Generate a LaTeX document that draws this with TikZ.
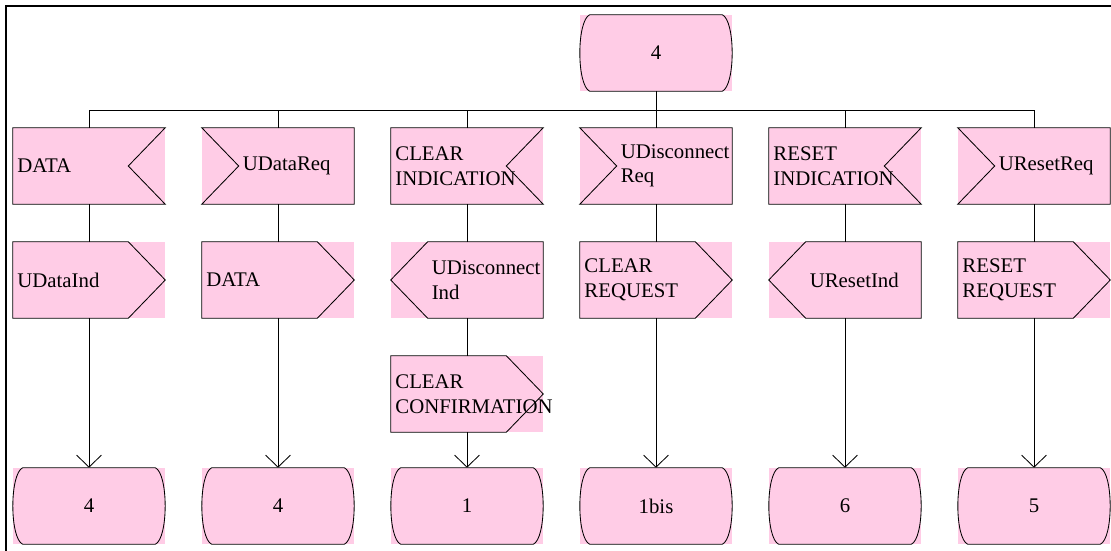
\documentclass[tikz,border=0pt]{standalone}
\usepackage{fontspec}
\setmainfont{Liberation Serif}
\usepackage{tikz}
\usetikzlibrary{arrows.meta, calc}
\definecolor{sdlpink}{HTML}{FFCCE6}
\tikzstyle{cell} = [rectangle, fill=sdlpink, minimum width=3.8cm, minimum height=1.9cm, inner sep=0pt, font=\fontsize{14.8}{17.4}\selectfont]
\tikzstyle{txt} = [anchor=west, align=left, inner sep=0pt, font=\fontsize{14.8}{17.4}\selectfont]
\tikzstyle{line} = [draw=black, line width=0.6pt]
\tikzstyle{arrow} = [line, -{Straight Barb[length=0.3cm, width=0.62cm]}]
% outlines drawn round a pink cell
\newcommand{\statebox}[1]{\draw[line] ($(#1.north west)+(0.25,0)$) -- ($(#1.north east)+(-0.25,0)$)
  .. controls ($(#1.north east)+(0.08,-0.15)$) and ($(#1.south east)+(0.08,0.15)$) .. ($(#1.south east)+(-0.25,0)$)
  -- ($(#1.south west)+(0.25,0)$)
  .. controls ($(#1.south west)+(-0.08,0.15)$) and ($(#1.north west)+(-0.08,-0.15)$) .. ($(#1.north west)+(0.25,0)$) -- cycle;}
\newcommand{\recvright}[1]{\draw[line] (#1.north west) -- (#1.north east) -- ($(#1.east)+(-0.925,0)$) -- (#1.south east) -- (#1.south west) -- cycle;}
\newcommand{\recvleft}[1]{\draw[line] (#1.north east) -- (#1.north west) -- ($(#1.west)+(0.925,0)$) -- (#1.south west) -- (#1.south east) -- cycle;}
\newcommand{\sendright}[1]{\draw[line] (#1.north west) -- ($(#1.north east)+(-0.925,0)$) -- (#1.east) -- ($(#1.south east)+(-0.925,0)$) -- (#1.south west) -- cycle;}
\newcommand{\sendleft}[1]{\draw[line] ($(#1.north west)+(0.925,0)$) -- (#1.north east) -- (#1.south east) -- ($(#1.south west)+(0.925,0)$) -- (#1.west) -- cycle;}

\begin{document}
\begin{tikzpicture}
    \useasboundingbox (0,0) rectangle (27.775,-13.775);
    \draw[line width=1.4pt] (0.15,-13.775) -- (0.15,-0.15) -- (27.775,-0.15);

    % starting state
    \node[cell] (top) at (16.4,-1.325) {4};
    \statebox{top}

    % inputs
    \node[cell] (in1) at (2.225,-4.15) {};
    \node[cell] (in2) at (6.95,-4.15) {};
    \node[cell] (in3) at (11.675,-4.15) {};
    \node[cell] (in4) at (16.4,-4.15) {};
    \node[cell] (in5) at (21.125,-4.15) {};
    \node[cell] (in6) at (25.85,-4.15) {};
    \recvright{in1} \recvleft{in2} \recvright{in3} \recvleft{in4} \recvright{in5} \recvleft{in6}
    \node[txt] at ($(in1.west)+(0.11,0)$) {DATA};
    \node[txt] at ($(in2.west)+(1.02,0)$) {UDataReq};
    \node[txt] at ($(in3.west)+(0.11,0)$) {CLEAR\\INDICATION};
    \node[txt] at ($(in4.west)+(1.02,0)$) {UDisconnect\\Req};
    \node[txt] at ($(in5.west)+(0.11,0)$) {RESET\\INDICATION};
    \node[txt] at ($(in6.west)+(1.02,0)$) {UResetReq};

    % outputs
    \node[cell] (out1) at (2.225,-7) {};
    \node[cell] (out2) at (6.95,-7) {};
    \node[cell] (out3) at (11.675,-7) {};
    \node[cell] (out4) at (16.4,-7) {};
    \node[cell] (out5) at (21.125,-7) {};
    \node[cell] (out6) at (25.85,-7) {};
    \node[cell] (conf) at (11.675,-9.85) {};
    \sendright{out1} \sendright{out2} \sendleft{out3} \sendright{out4} \sendleft{out5} \sendright{out6}
    \sendright{conf}
    \node[txt] at ($(out1.west)+(0.11,0)$) {UDataInd};
    \node[txt] at ($(out2.west)+(0.11,0)$) {DATA};
    \node[txt] at ($(out3.west)+(1.02,0)$) {UDisconnect\\Ind};
    \node[txt] at ($(out4.west)+(0.11,0)$) {CLEAR\\REQUEST};
    \node[txt] at ($(out5.west)+(1.02,0)$) {UResetInd};
    \node[txt] at ($(out6.west)+(0.11,0)$) {RESET\\REQUEST};
    \node[txt] at ($(conf.west)+(0.11,0)$) {CLEAR\\CONFIRMATION};

    % next states
    \node[cell] (st1) at (2.225,-12.65) {4};
    \node[cell] (st2) at (6.95,-12.65) {4};
    \node[cell] (st3) at (11.675,-12.65) {1};
    \node[cell] (st4) at (16.4,-12.65) {1bis};
    \node[cell] (st5) at (21.125,-12.65) {6};
    \node[cell] (st6) at (25.85,-12.65) {5};
    \foreach \i in {1,...,6} {\statebox{st\i}}

    % flow lines
    \coordinate (bus) at (16.4,-2.75);
    \draw[line] (top) -- (bus);
    \draw[line] (in1.north) -- (in1.north |- bus) -- (in6.north |- bus) -- (in6.north);
    \foreach \i in {2,...,5} \draw[line] (in\i.north) -- (in\i.north |- bus);
    \foreach \i in {1,...,6} \draw[line] (in\i) -- (out\i);
    \foreach \i in {1,2,4,5,6} \draw[arrow] (out\i) -- (st\i);
    \draw[line] (out3) -- (conf);
    \draw[arrow] (conf) -- (st3);
\end{tikzpicture}
\end{document}
